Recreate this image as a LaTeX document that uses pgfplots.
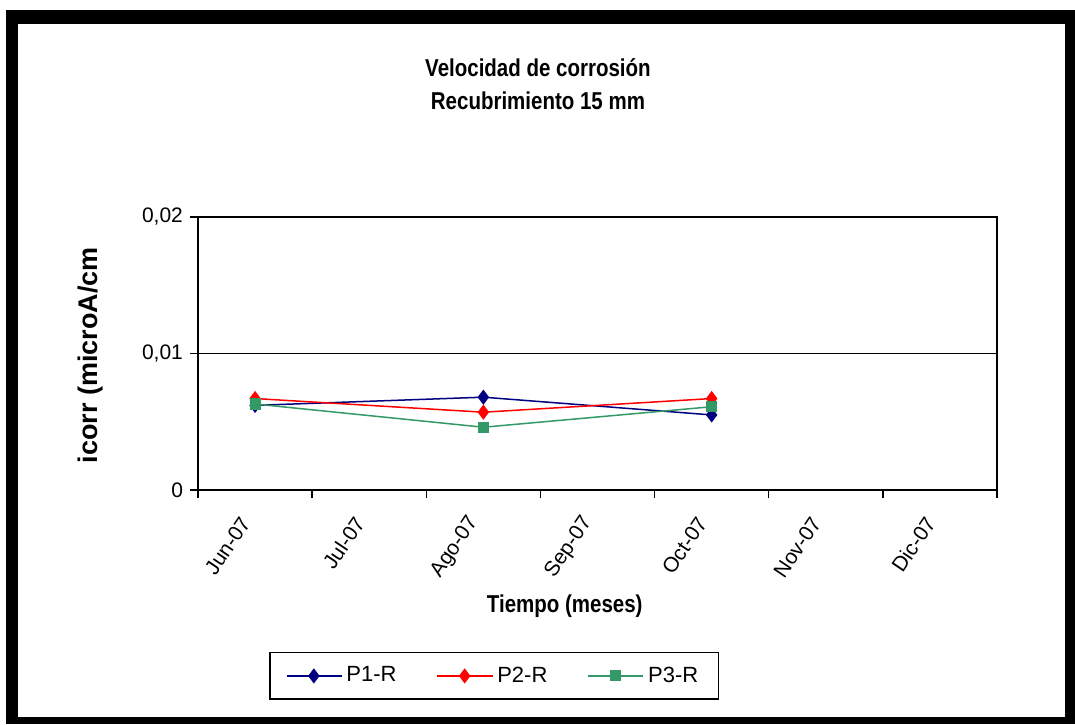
\documentclass[border=0pt]{standalone}
\usepackage{fontspec}
\setmainfont{Liberation Sans}
\newfontfamily\narrowsf[FakeStretch=0.84]{Liberation Sans}
\usepackage{pgfplots}
\pgfplotsset{compat=1.18}

\definecolor{pone}{RGB}{0,0,128}
\definecolor{ptwo}{RGB}{255,0,0}
\definecolor{pthree}{RGB}{51,153,102}

\begin{document}
\begin{tikzpicture}
  % outer frame of the chart
  \fill[white] (-99pt,-117pt) rectangle (438.5pt,245pt);
  \fill[black] (-96pt,-117pt) rectangle (438.5pt,240pt);
  \fill[white] (-90pt,-113.5pt) rectangle (433.5pt,233pt);

  \begin{axis}[
    at={(0pt,0pt)}, anchor=south west,
    scale only axis,
    width=399.5pt, height=136.5pt,
    xmin=-0.5, xmax=6.5,
    ymin=0, ymax=0.02,
    axis line style={line width=0.75pt},
    tick align=outside,
    xtick pos=bottom, ytick pos=left,
    scaled y ticks=false,
    xtick={0,...,6},
    xticklabels={Jun-07,Jul-07,Ago-07,Sep-07,Oct-07,Nov-07,Dic-07},
    major x tick style={draw=none},
    minor xtick={-0.5,0.5,...,6.5},
    minor x tick style={line width=0.75pt, black},
    minor tick length=4pt,
    ytick={0,0.01,0.02},
    yticklabels={0,{0,01},{0,02}},
    major tick length=4pt,
    y tick style={line width=0.75pt, black},
    ymajorgrids,
    grid style={line width=0.75pt, black},
    tick label style={font=\fontsize{10.5}{12}\selectfont},
    xticklabel style={font=\fontsize{10.5}{12}\selectfont,
      rotate=56, anchor=east, xshift=-8pt, yshift=-2pt},
    title={Velocidad de corrosión\\[2.5pt]Recubrimiento 15 mm},
    title style={at={(rel axis cs:0.4255,1.443)}, anchor=center, align=center,
      font=\narrowsf\bfseries\fontsize{12.2}{14}\selectfont},
    xlabel={Tiempo (meses)},
    every axis x label/.style={at={(rel axis cs:0.459,-0.425)}, anchor=center,
      font=\narrowsf\bfseries\fontsize{12.2}{14}\selectfont},
    ylabel={icorr (microA/cm},
    every axis y label/.style={at={(rel axis cs:-0.135,0.494)}, anchor=center, rotate=90,
      font=\bfseries\fontsize{13.5}{15}\selectfont},
    legend columns=3,
    legend style={at={(rel axis cs:0.3705,-0.681)}, anchor=center,
      draw=black, line width=0.75pt, font=\fontsize{11}{13}\selectfont,
      inner xsep=8pt, inner ysep=5pt,
      /tikz/every even column/.append style={column sep=18pt}},
    legend image code/.code={%
      \draw[mark repeat=2,mark phase=2,#1] plot coordinates {(0cm,0cm) (0.48cm,0cm) (0.97cm,0cm)};},
    clip=false,
  ]
    \addplot[color=pone, line width=0.75pt, mark=diamond*, mark size=3.2pt,
      mark options={fill=pone, draw=pone}]
      coordinates {(0,0.0062) (2,0.0068) (4,0.0055)};
    \addlegendentry{P1-R}
    \addplot[color=ptwo, line width=0.75pt, mark=diamond*, mark size=3.2pt,
      mark options={fill=ptwo, draw=ptwo}]
      coordinates {(0,0.0067) (2,0.0057) (4,0.0067)};
    \addlegendentry{P2-R}
    \addplot[color=pthree, line width=0.75pt, mark=square*, mark size=2.4pt,
      mark options={fill=pthree, draw=pthree}]
      coordinates {(0,0.0063) (2,0.0046) (4,0.0061)};
    \addlegendentry{P3-R}
  \end{axis}
\end{tikzpicture}
\end{document}
